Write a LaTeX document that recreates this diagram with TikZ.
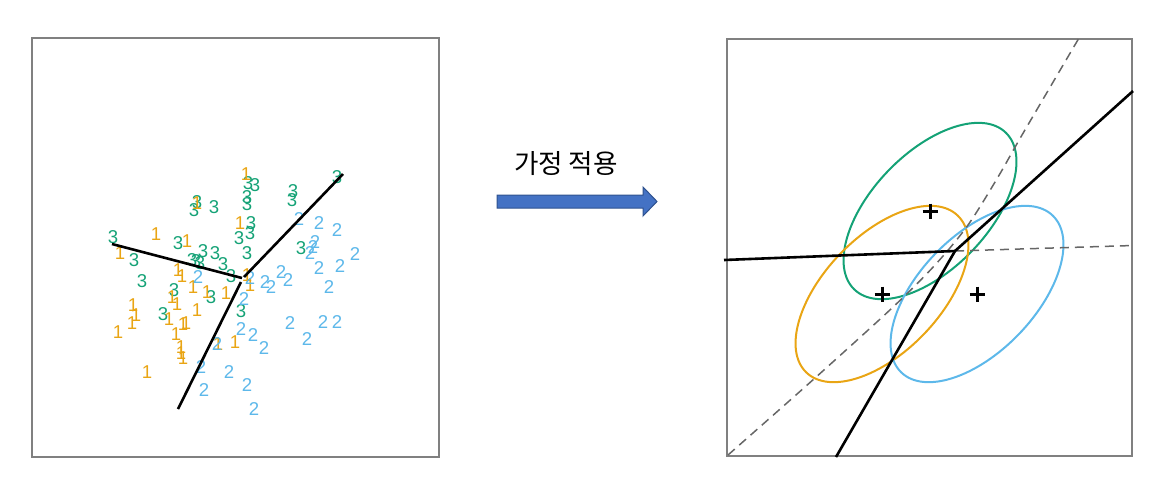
\documentclass[tikz,border=0pt]{standalone}
\usepackage{fontspec}
\setsansfont{Liberation Sans}
\newfontfamily\kofont{Noto Sans CJK KR}
\usetikzlibrary{arrows.meta}
\definecolor{cOne}{HTML}{E9A514}
\definecolor{cTwo}{HTML}{5DB8EA}
\definecolor{cThree}{HTML}{14A276}
\definecolor{frameGray}{HTML}{808080}
\definecolor{arrowFill}{HTML}{4472C4}
\definecolor{arrowLine}{HTML}{2F528F}
\tikzset{frame/.style={draw=frameGray,line width=0.7pt}}
\tikzset{bound/.style={draw=black,line width=1.3pt}}
\tikzset{bounddash/.style={draw=black!60,line width=0.75pt,dash pattern=on 4.5pt off 3pt}}
\tikzset{lbl/.style={inner sep=0pt,font=\sffamily\fontsize{9.3}{11}\selectfont}}
\tikzset{oneLbl/.style={lbl,text=cOne},twoLbl/.style={lbl,text=cTwo},threeLbl/.style={lbl,text=cThree}}
\tikzset{contour/.style={line width=1pt}}
\tikzset{centroid/.style={draw=black,line width=1.5pt}}

\begin{document}
\begin{tikzpicture}[x=0.5pt,y=-0.5pt]
  \useasboundingbox (0,0) rectangle (1170,484);
  % left panel: data
  \draw[frame] (32,38) rectangle (439,457);
  \foreach \x/\y [count=\i] in {337/177,248/183,255/185,247/197,247/204,293/191,292/200,197/202,194/210,214/207,251/223,250/233,239/238,113/237,178/243,203/251,215/253,134/260,192/260,196/261,200/263,223/264,247/253,231/276,301/248,142/281,174/290,211/297,163/314,241/311}
    \node[threeLbl] (three-\i) at (\x,\y) {3};
  \foreach \x/\y [count=\i] in {246/174,197/203,156/234,187/241,240/223,120/253,178/270,182/276,247/275,250/285,193/287,207/292,226/293,172/297,177/304,133/305,136/315,197/310,169/319,132/323,118/332,183/324,186/323,176/334,181/347,181/353,183/358,218/344,235/342,147/372}
    \node[oneLbl] (one-\i) at (\x,\y) {1};
  \foreach \x/\y [count=\i] in {299/219,319/223,337/230,315/242,313/247,310/253,355/254,319/268,340/266,198/277,250/278,265/282,271/287,281/272,288/280,329/287,244/299,290/323,323/322,337/322,307/339,241/329,253/335,264/348,217/344,201/367,229/372,204/390,247/385,254/409}
    \node[twoLbl] (two-\i) at (\x,\y) {2};
  \coordinate (w1) at (112,244);
  \coordinate (w2) at (242,278);
  \coordinate (ne1) at (244,277);
  \coordinate (ne2) at (343,174);
  \coordinate (s1) at (241,282);
  \coordinate (s2) at (178,409);
  \draw[bound] (w1) -- (w2);
  \draw[bound] (ne1) -- (ne2);
  \draw[bound] (s1) -- (s2);

  % arrow
  \node[font=\kofont\fontsize{13.3}{16}\selectfont] (title) at (566,164) {가정 적용};
  \filldraw[fill=arrowFill,draw=arrowLine,line width=0.5pt]
    (497,195) -- (643,195) -- (643,187) -- (657,201.5) -- (643,216) -- (643,208) -- (497,208) -- cycle;

  % right panel: model
  \draw[frame] (727,39) rectangle (1132,456);
  \coordinate (mu3) at (930,211);
  \coordinate (mu1) at (882,294);
  \coordinate (mu2) at (977,294);
  \draw[contour,cThree] (mu3) ellipse [x radius=109,y radius=58,rotate=46];
  \draw[contour,cOne] (mu1) ellipse [x radius=109,y radius=58,rotate=46];
  \draw[contour,cTwo] (mu2) ellipse [x radius=109,y radius=58,rotate=46];
  \foreach \m in {mu1,mu2,mu3}
    \draw[centroid] (\m) +(-7.5,0) -- +(7.5,0) (\m) +(0,-7.5) -- +(0,7.5);
  \draw[bounddash] plot[smooth] coordinates {(728,455) (815,378) (892,308) (935,265) (968,225) (998,177) (1022,135) (1079,38)};
  \coordinate (J) at (955,251);
  \coordinate (Jw) at (724,260);
  \coordinate (Je) at (1133,245.5);
  \coordinate (Jne) at (1133,91);
  \coordinate (Js) at (836,457);
  \draw[bounddash] (J) -- (Je);
  \draw[bound] (Jw) -- (J);
  \draw[bound] (J) -- (Jne);
  \draw[bound] (J) -- (Js);
\end{tikzpicture}
\end{document}
